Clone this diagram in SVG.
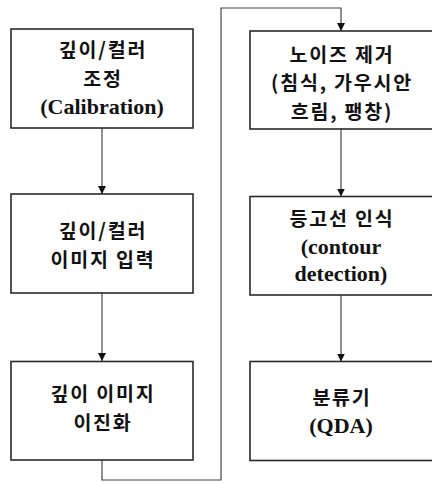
<svg xmlns="http://www.w3.org/2000/svg" width="432" height="483" viewBox="0 0 432 483">
<style>
.box{fill:#fff;stroke:#2a2a2a;stroke-width:1.6}
.ko{font-family:"Noto Sans CJK KR","Noto Sans",sans-serif;font-weight:bold;font-size:19.5px;letter-spacing:1.8px;fill:#111;text-anchor:middle}
.en{font-family:"Liberation Serif","Times New Roman",serif;font-weight:bold;font-size:22px;fill:#111;text-anchor:middle}
.con{fill:none;stroke:#444;stroke-width:1.2}
</style>
<defs>
<marker id="arr" markerWidth="8" markerHeight="8" refX="8" refY="4" orient="auto" markerUnits="userSpaceOnUse">
<path d="M0,0 L8,4 L0,8 Z" fill="#111"/>
</marker>
</defs>
<rect width="432" height="483" fill="#fff"/>
<g id="connectors">
<path class="con" d="M102,128 V194" marker-end="url(#arr)"/>
<path class="con" d="M102,293 V361" marker-end="url(#arr)"/>
<path class="con" d="M102,460 V480 H221 V8 H341 V31" marker-end="url(#arr)"/>
<path class="con" d="M341,129 V196.5" marker-end="url(#arr)"/>
<path class="con" d="M341,295 V361.5" marker-end="url(#arr)"/>
</g>
<g id="calibration">
<rect class="box" x="11" y="29" width="182" height="99"/>
<text class="ko" x="103" y="57">깊이/컬러</text>
<text class="ko" x="103" y="85.5">조정</text>
<text class="en" x="102" y="114">(Calibration)</text>
</g>
<g id="input">
<rect class="box" x="11" y="194" width="182" height="99"/>
<text class="ko" x="103" y="238">깊이/컬러</text>
<text class="ko" x="103" y="266.5">이미지 입력</text>
</g>
<g id="binarize">
<rect class="box" x="11" y="361.5" width="182" height="98.5"/>
<text class="ko" x="103" y="401">깊이 이미지</text>
<text class="ko" x="103" y="429.5">이진화</text>
</g>
<g id="denoise">
<rect class="box" x="250" y="31" width="186" height="98"/>
<text class="ko" x="342" y="61.5">노이즈 제거</text>
<text class="ko" x="342" y="90">(침식, 가우시안</text>
<text class="ko" x="342" y="118.5">흐림, 팽창)</text>
</g>
<g id="contour">
<rect class="box" x="250" y="196.5" width="186" height="98.5"/>
<text class="ko" x="342" y="226">등고선 인식</text>
<text class="en" x="341" y="254">(contour</text>
<text class="en" x="341" y="281">detection)</text>
</g>
<g id="classifier">
<rect class="box" x="250" y="361.5" width="186" height="99"/>
<text class="ko" x="342" y="405">분류기</text>
<text class="en" x="341" y="433">(QDA)</text>
</g>
</svg>
